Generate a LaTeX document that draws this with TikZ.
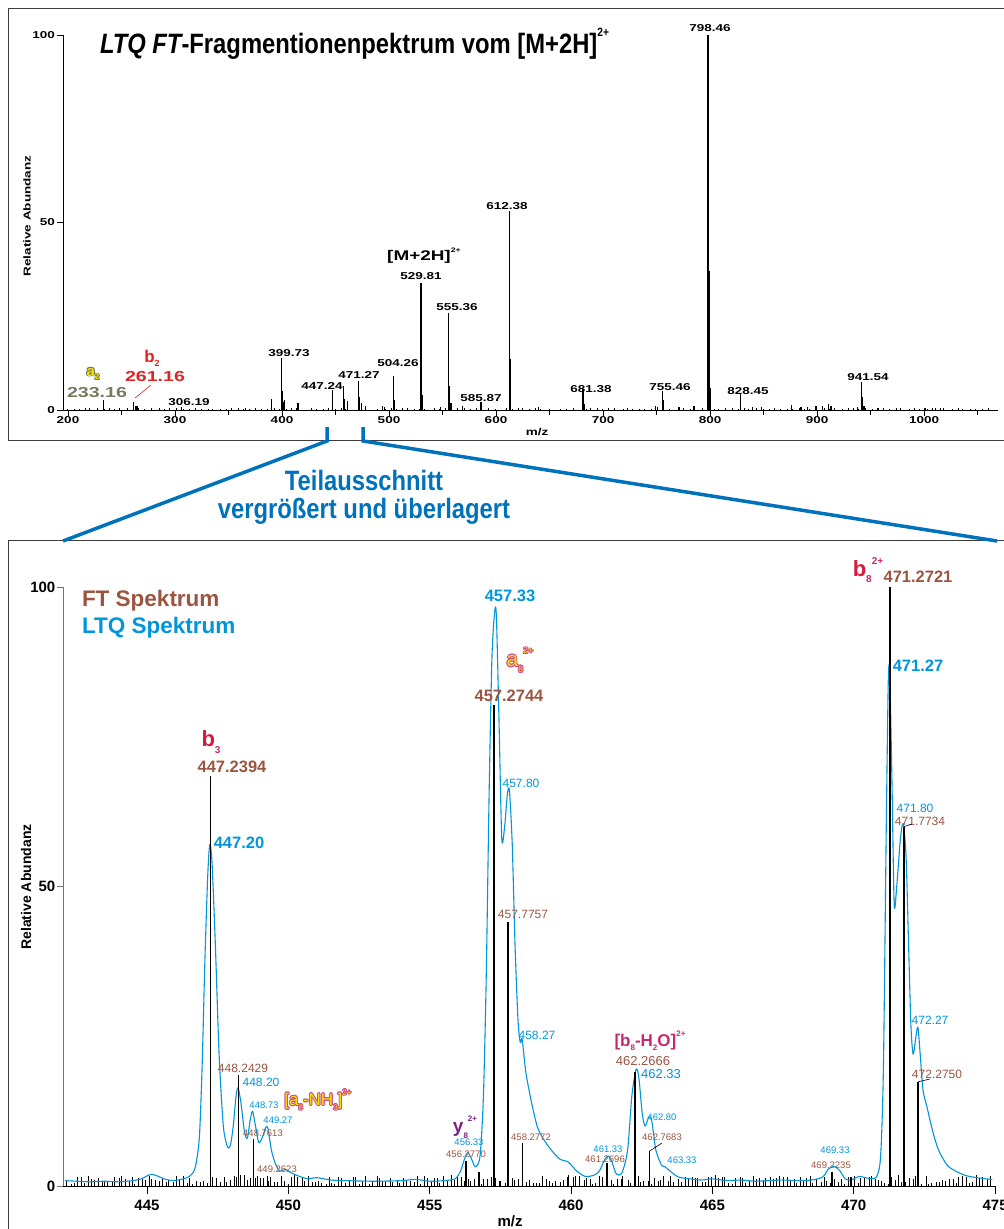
\documentclass[tikz,border=0pt]{standalone}
\usepackage{fontspec}
\setmainfont{Liberation Sans}
\newfontfamily\widefont[FakeStretch=1.35]{Liberation Sans}
\newfontfamily\condfont[FakeStretch=0.85]{Liberation Sans}
\newcommand\fsz[1]{\fontsize{#1}{#1}\selectfont}
\newcommand\sbs[1]{\raisebox{-0.28em}{\fsz{10}#1}}
\newcommand\sps[1]{\raisebox{0.55em}{\fsz{10}#1}}
\definecolor{ftbrown}{RGB}{155,85,65}
\definecolor{ltqblue}{RGB}{0,150,220}
\definecolor{teilblue}{RGB}{0,114,188}
\definecolor{ionred}{RGB}{215,25,60}
\definecolor{ionmag}{RGB}{200,40,110}
\definecolor{ypurple}{RGB}{125,35,125}
\definecolor{ayel}{RGB}{245,228,0}
\definecolor{amag}{RGB}{205,70,160}
\definecolor{agrey}{RGB}{120,120,95}
\definecolor{bred}{RGB}{225,35,35}
\definecolor{framec}{RGB}{60,60,60}
\newcommand\outltext[5]{%
  \foreach \ang in {0,30,...,330}{\node[#3, text=#5] at ([shift={(\ang:0.8pt)}]#2) {#4};}
  \node[#3, text=ayel] (#1) at (#2) {#4};}
\begin{document}
\begin{tikzpicture}[x=1pt,y=-1pt,
  every node/.style={inner sep=0pt,outer sep=0pt},
  stick/.style={line width=1.3pt, black},
  bstick/.style={line width=1.6pt, black},
  noise/.style={line width=0.8pt, black},
  ltq/.style={line width=1.1pt, ltqblue, line join=round},
  axisline/.style={line width=0.9pt, black},
  bracket/.style={line width=3.5pt, teilblue},
  toplab/.style={font={\widefont\bfseries\fsz{10}}},
  ftbig/.style={font={\bfseries\fsz{16.5}}, text=ftbrown},
  ltqbig/.style={font={\bfseries\fsz{16.5}}, text=ltqblue},
  ftmed/.style={font={\fsz{12}}, text=ftbrown},
  ltqmed/.style={font={\fsz{12}}, text=ltqblue},
  ftsm/.style={font={\fsz{9.5}}, text=ftbrown},
  ltqsm/.style={font={\fsz{9.5}}, text=ltqblue},
  botlab/.style={font={\bfseries\fsz{15}}},
  ion/.style={font={\bfseries\fsz{22}}},
  leader/.style={line width=0.6pt, black}
]
\pgfmathsetseed{4711}
\useasboundingbox (0,0) rectangle (1004,1229);
\fill[white] (0,0) rectangle (1004,1229);

% frames
\draw[framec, line width=1pt] (1004,8) -- (8,8) -- (8,440) -- (1004,440);
\draw[framec, line width=1pt] (1004,540) -- (8,540) -- (8,1229);

% ================= TOP PANEL =================
\node[anchor=west, font={\condfont\bfseries\fsz{28}}] (title) at (100,44)
  {\itshape LTQ FT\upshape-Fragmentionenpektrum vom [M+2H]\raisebox{0.6em}{\fsz{12}2+}};

\begin{scope}[shift={(-146pt,-410pt)}, x=1.07pt, y=3.75pt]
  % noise
  \foreach \i in {0,...,150}{
    \pgfmathsetmacro\m{197+\i*5.7+rnd*3}
    \pgfmathsetmacro\h{0.1+rnd*0.5}
    \draw[noise, line width=0.6pt] (\m,0) -- (\m,\h);
  }
  % peaks
  \foreach \m/\h in {233.16/2.7, 261.16/2.2, 263.5/1.0, 264.5/1.2, 278/0.6, 306.19/0.8, 366/0.5,
    390.5/3, 399.73/14, 400.3/5, 401.2/2.2, 402.2/2.8, 415/2, 447.24/5.3, 457.3/6.5, 458.2/3,
    461/2.5, 471.27/7.8, 472.2/3.5, 474/1.8, 478/1, 494/1.1, 496/0.8, 504.26/9, 505.3/2.8,
    529.81/34, 530.5/25, 531.4/4, 548/0.8, 555.36/26, 556.4/6.5, 558/2, 569/1, 585.87/2.2,
    612.38/53, 613.5/13.5, 640/0.7, 681.38/5.5, 682.3/1.5, 749/1.2, 751/0.8, 755.46/5.2,
    756.5/2.8, 771/0.7, 785/1.2, 798.2/100, 799.5/37, 800.5/6, 828.45/4.2, 840/0.8, 848/0.7,
    876/1.3, 885/0.8, 891/0.8, 899/1.1, 905/1, 911/1.7, 913/1, 938/0.9, 941.54/7.5, 942.5/3.5,
    944/1, 957/0.6, 1001/0.5, 1011/0.6, 1060/0.5}
    {\draw[stick] (\m,0) -- (\m,\h);}
  % axes
  \draw[axisline] (195.3,0) -- (1069,0);
  \draw[axisline] (195.3,0) -- (195.3,100);
  \foreach \t in {200,300,...,1000}{\draw[axisline] (\t,0) -- ++(0pt,-6pt);}
  \foreach \t in {250,350,...,1050}{\draw[axisline] (\t,0) -- ++(0pt,-5pt);}
  \foreach \v in {0,50,100}{\draw[axisline] (195.3,\v) -- ++(-6pt,0pt);}
  \foreach \t in {200,300,...,1000}{\node[toplab] (tx\t) at ([yshift=-10pt]\t,0) {\t};}
  \foreach \v in {0,50,100}{\node[toplab, anchor=east] (ty\v) at ([xshift=-8pt]195.3,\v) {\v};}
\end{scope}
\node[toplab] (tmz) at (537,432) {m/z};
\node[toplab, rotate=90] (tyl) at (27,216) {Relative Abundanz};

% top peak labels
\node[toplab] (l798) at (710,28) {798.46};
\node[toplab] (l612) at (507,206) {612.38};
\node[font={\widefont\bfseries\fsz{14}}] (lM) at (424,256) {[M+2H]\raisebox{0.55em}{\fsz{6.5}2+}};
\node[toplab] (l529) at (421,276) {529.81};
\node[toplab] (l555) at (457,307) {555.36};
\node[toplab] (l399) at (289,353) {399.73};
\node[toplab] (l504) at (398,363) {504.26};
\node[toplab] (l471) at (359,375) {471.27};
\node[toplab] (l447) at (322,386) {447.24};
\node[toplab] (l585) at (481,398) {585.87};
\node[toplab] (l681) at (591,389) {681.38};
\node[toplab] (l755) at (670,387) {755.46};
\node[toplab] (l828) at (748,391) {828.45};
\node[toplab] (l941) at (868,377) {941.54};
\node[toplab] (l306) at (189,402) {306.19};
\outltext{la2}{93,374}{font={\bfseries\fsz{15}}}{a\raisebox{-0.25em}{\fsz{8}2}}{agrey}
\node[font={\widefont\bfseries\fsz{14.5}}, text=agrey] (l233) at (97,393) {233.16};
\node[font={\bfseries\fsz{17}}, text=bred] (lb2) at (152,358) {b\raisebox{-0.25em}{\fsz{9}2}};
\node[font={\widefont\bfseries\fsz{14.5}}, text=bred] (l261) at (155,377) {261.16};
\coordinate (p261) at (135,398);
\draw[bred, line width=0.6pt] (151,385) -- (p261);

% ================= CONNECTOR =================
\coordinate (bl) at (63,541);
\coordinate (br) at (997,541);
\draw[bracket] (327,427) -- (327,441) -- (bl);
\draw[bracket] (363,427) -- (363,441) -- (br);
\node[font={\condfont\bfseries\fsz{28}}, text=teilblue, align=center] (teil) at (364,497)
  {Teilausschnitt\\vergrößert und überlagert};

% ================= BOTTOM PANEL =================
\begin{scope}[shift={(-12433.15pt,-1186pt)}, x=28.27pt, y=5.99pt]
  % noise sticks
  \foreach \i in {0,...,272}{
    \pgfmathsetmacro\m{442.15+\i*0.12+rnd*0.07}
    \pgfmathsetmacro\h{0.3+rnd*1.5}
    \draw[noise] (\m,0) -- (\m,\h);
  }
  % LTQ profile
  \draw[ltq] plot[smooth, tension=0.45] coordinates {
    (442.1,0.9) (442.5,0.8) (443.0,0.7) (443.5,0.8) (444.0,0.7) (444.5,0.9) (444.8,1.2)
    (445.1,1.9) (445.3,1.8) (445.6,1.2) (445.9,0.9) (446.2,1.1) (446.5,1.6) (446.7,3)
    (446.85,8) (446.95,20) (447.05,38) (447.15,52) (447.22,57) (447.3,54) (447.42,40)
    (447.55,22) (447.7,10) (447.85,6.5) (447.95,6.8) (448.05,10) (448.15,15) (448.22,16.4)
    (448.32,14) (448.45,9) (448.55,8) (448.65,11) (448.73,12.5) (448.82,10.5) (448.95,7.3)
    (449.07,8) (449.2,9.8) (449.28,9.6) (449.4,6) (449.55,3.6) (449.7,2.5) (449.9,2.8)
    (450.1,2.2) (450.4,1.6) (450.7,1.2) (451.0,1.4) (451.5,1.0) (452,0.9) (453,0.8)
    (454,0.9) (454.5,1.1) (455.0,0.8) (455.5,0.9) (455.9,1.2) (456.1,2.6) (456.25,4.8)
    (456.35,5.6) (456.48,4.5) (456.62,3.2) (456.78,5) (456.9,15) (457.0,35) (457.1,65)
    (457.2,88) (457.3,96) (457.36,95) (457.45,78) (457.55,58) (457.65,60) (457.75,65.5)
    (457.82,66) (457.92,57) (458.02,40) (458.12,28) (458.2,24) (458.27,24.5) (458.4,19)
    (458.6,14) (458.8,10) (459.0,8) (459.3,6) (459.6,4.5) (459.9,4) (460.2,2.5) (460.5,1.6)
    (460.8,1.8) (461.0,2.5) (461.2,4.5) (461.33,5) (461.45,4) (461.6,2) (461.8,2.2)
    (462.0,6) (462.15,15) (462.3,19.5) (462.4,18) (462.52,12) (462.62,10) (462.75,11.5)
    (462.85,11) (463.0,6) (463.2,3.5) (463.33,3.2) (463.5,2.5) (463.8,1.5) (464.2,1.2)
    (464.6,1.0) (465.0,1.2) (465.5,0.9) (466,1.0) (466.5,0.8) (467,0.9) (467.5,1.0)
    (468,0.9) (468.5,1.0) (468.9,1.5) (469.1,2.8) (469.3,3.3) (469.5,2.6) (469.7,1.2)
    (469.9,1.0) (470.2,1.6) (470.5,1.3) (470.8,1.5) (470.95,5) (471.05,20) (471.15,60)
    (471.22,84) (471.27,86) (471.35,68) (471.43,47) (471.52,50) (471.65,58) (471.75,60.5)
    (471.85,55) (471.93,42) (472.02,27) (472.1,22) (472.2,25) (472.27,26.5) (472.35,22)
    (472.45,16) (472.6,13) (472.8,9) (473.0,6) (473.3,3.5) (473.6,2.5) (474.0,1.7)
    (474.5,1.3) (474.9,1.1)};
  % FT sticks
  \foreach \m/\h in {447.2394/68.4, 448.2429/18.5, 448.7613/7.8, 449.2623/1.7, 456.2770/4.2,
    456.75/2.3, 457.2744/80.3, 457.7757/44, 458.2772/7.2, 461.2696/3.8, 462.2666/19,
    462.7683/5.8, 469.2235/2.3, 469.9/1.5, 471.2721/100, 471.7734/60, 472.2750/17.4}
    {\draw[bstick] (\m,0) -- (\m,\h);}
  % axes
  \draw[axisline] (442.04,0) -- (475,0);
  \draw[line width=0.9pt, black!55] (442.04,0) -- (442.04,100);
  \foreach \t in {445,450,...,475}{\draw[axisline] (\t,0) -- ++(0pt,-8pt);}
  \foreach \v in {0,50,100}{\draw[line width=0.9pt, black!55] (442.04,\v) -- ++(-6pt,0pt);}
  \foreach \t in {445,450,...,475}{\node[botlab] (bx\t) at ([yshift=-19pt]\t,0) {\t};}
  \foreach \v in {0,50,100}{\node[botlab, anchor=east] (by\v) at ([xshift=-8pt]442.04,\v) {\v};}
  \coordinate (s4717) at (471.7734,60);
  \coordinate (s4627) at (462.7683,5.8);
  \coordinate (s4722) at (472.2750,17.4);
\end{scope}
\node[botlab] (bmz) at (510,1221) {m/z};
\node[font={\bfseries\fsz{14}}, rotate=90] (byl) at (26,887) {Relative Abundanz};

\node[anchor=west, font={\bfseries\fsz{22.5}}, text=ftbrown] (legft) at (82,601) {FT Spektrum};
\node[anchor=west, font={\bfseries\fsz{22.5}}, text=ltqblue] (legltq) at (82,628) {LTQ Spektrum};

% big labels
\node[ltqbig] (v45733) at (510,596) {457.33};
\node[ltqbig] (v44720) at (239,843) {447.20};
\node[ltqbig] (v47127) at (918,666) {471.27};
\node[ftbig] (f4472) at (232,767) {447.2394};
\node[ftbig] (f4572) at (509,696) {457.2744};
\node[ftbig] (f4712) at (918,577) {471.2721};
% medium labels
\node[ftmed] (f4482) at (243,1068) {448.2429};
\node[ltqmed] (v44820) at (261,1082) {448.20};
\node[ltqmed] (v45780) at (521,783) {457.80};
\node[ftmed] (f4577) at (523,914) {457.7757};
\node[ltqmed] (v45827) at (537,1035) {458.27};
\node[ftmed, font={\fsz{13}}] (f4622) at (643,1061) {462.2666};
\node[ltqmed, font={\fsz{13}}] (v46233) at (661,1074) {462.33};
\node[ltqmed] (v47180) at (915,808) {471.80};
\node[ftmed] (f4717) at (920,821) {471.7734};
\node[ltqmed] (v47227) at (930,1020) {472.27};
\node[ftmed] (f4722) at (937,1074) {472.2750};
% small labels
\node[ltqsm] (v44873) at (264,1105) {448.73};
\node[ltqsm] (v44927) at (278,1120) {449.27};
\node[ftsm] (f4487) at (263,1133) {448.7613};
\node[ftsm] (f4492) at (277,1169) {449.2623};
\node[ltqsm] (v45633) at (469,1142) {456.33};
\node[ftsm] (f4562) at (466,1154) {456.2770};
\node[ftsm] (f4582) at (531,1137) {458.2772};
\node[ltqsm] (v46280) at (662,1117) {462.80};
\node[ftsm] (f4627) at (662,1137) {462.7683};
\node[ltqsm] (v46333) at (682,1160) {463.33};
\node[ltqsm] (v46133) at (608,1149) {461.33};
\node[ftsm] (f4612) at (605,1159) {461.2696};
\node[ltqsm] (v46933) at (835,1150) {469.33};
\node[ftsm] (f4692) at (831,1165) {469.2235};
% leader lines
\draw[leader] (s4717) -- (912,824);
\draw[leader] (s4627) -- (662,1143);
\draw[leader] (s4722) -- (930,1079);

% ion labels
\node[ion, text=ionred] (ib3) at (211,742) {b\textcolor{ionmag}{\sbs{3}}};
\node[ion, text=ionred] (ib8) at (868,570) {b\textcolor{ionmag}{\sbs{8}\sps{2+}}};
\node[font={\bfseries\fsz{17}}, text=ionmag] (ib8w) at (650,1041)
  {[b\raisebox{-0.28em}{\fsz{8}8}-H\raisebox{-0.28em}{\fsz{8}2}O]\raisebox{0.55em}{\fsz{8}2+}};
\node[font={\bfseries\fsz{19}}, text=ypurple] (iy8) at (465,1127) {y\raisebox{-0.28em}{\fsz{8}8}\raisebox{0.6em}{\fsz{8}2+}};
\outltext{ia8}{520,660}{font={\fsz{21}}}{a\raisebox{-0.28em}{\fsz{9}8}\raisebox{0.6em}{\fsz{9}2+}}{amag}
\outltext{ia8n}{318,1100}{font={\fsz{17}}}{[a\raisebox{-0.28em}{\fsz{8}8}-NH\raisebox{-0.28em}{\fsz{8}3}]\raisebox{0.6em}{\fsz{8}2+}}{amag}
\end{tikzpicture}
\end{document}
